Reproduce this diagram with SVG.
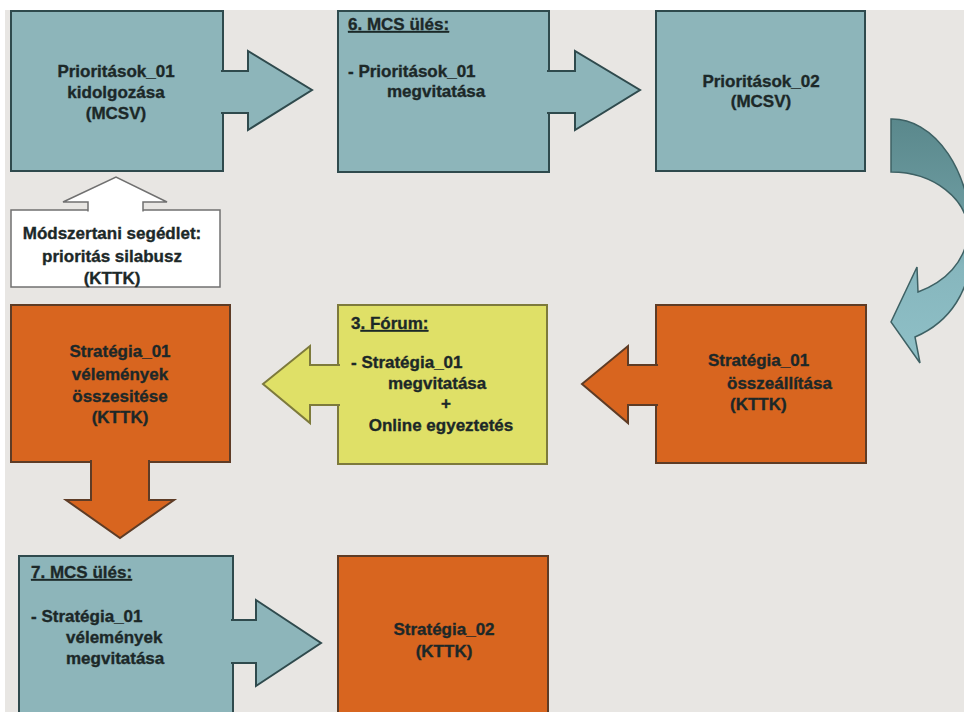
<svg xmlns="http://www.w3.org/2000/svg" width="964" height="712" viewBox="0 0 964 712">
<style>
  text { font-family: "Liberation Sans", Arial, sans-serif; font-weight: bold; font-size: 17px; fill: #1c2828; stroke: #1c2828; stroke-width: 0.35; }
  .mid { text-anchor: middle; }
  .u { text-decoration: underline; }
  .teal { fill: #8db5ba; stroke: #2f4a4d; stroke-width: 2; }
  .orange { fill: #d8651f; stroke: #5e3c26; stroke-width: 2; }
  .yellow { fill: #dfe067; stroke: #7d7a3c; stroke-width: 2; }
  .white { fill: #ffffff; stroke: #707070; stroke-width: 1.5; }
</style>
<defs>
  <linearGradient id="curveGrad" x1="0" y1="119" x2="0" y2="363" gradientUnits="userSpaceOnUse">
    <stop offset="0" stop-color="#5a888c"/>
    <stop offset="0.45" stop-color="#6f9ea3"/>
    <stop offset="0.6" stop-color="#86b6bd"/>
    <stop offset="1" stop-color="#8fc0c7"/>
  </linearGradient>
</defs>
<rect x="0" y="0" width="964" height="712" fill="#ffffff"/>
<rect x="5" y="10" width="959" height="702" fill="#e8e6e3"/>

<g id="node-prioritasok01">
  <rect class="teal" x="11" y="11" width="212" height="160"/>
  <text class="mid" x="116" y="77">Prioritások_01</text>
  <text class="mid" x="116" y="98">kidolgozása</text>
  <text class="mid" x="116" y="119">(MCSV)</text>
</g>
<g id="node-mcs6">
  <rect class="teal" x="338" y="11" width="211" height="161"/>
  <text class="u" x="348" y="30">6. MCS ülés:</text>
  <text x="348" y="77">- Prioritások_01</text>
  <text x="387" y="97">megvitatása</text>
</g>
<g id="node-prioritasok02">
  <rect class="teal" x="656" y="11" width="209" height="160"/>
  <text class="mid" x="761" y="87">Prioritások_02</text>
  <text class="mid" x="761" y="107">(MCSV)</text>
</g>
<g id="node-segedlet">
  <rect class="white" x="11" y="210" width="209" height="77"/>
  <text class="mid" x="112" y="239">Módszertani segédlet:</text>
  <text class="mid" x="112" y="262">prioritás silabusz</text>
  <text class="mid" x="112" y="284">(KTTK)</text>
</g>
<g id="node-strategia01-osszesites">
  <rect class="orange" x="11" y="305" width="219" height="157"/>
  <text class="mid" x="120" y="357">Stratégia_01</text>
  <text class="mid" x="120" y="380">vélemények</text>
  <text class="mid" x="120" y="402">összesitése</text>
  <text class="mid" x="120" y="423">(KTTK)</text>
</g>
<g id="node-forum3">
  <rect class="yellow" x="338" y="305" width="209" height="159"/>
  <text x="351" y="329">3<tspan class="u">. Fórum:</tspan></text>
  <text x="351" y="368">- Stratégia_01</text>
  <text x="388" y="389">megvitatása</text>
  <text class="mid" x="446" y="409">+</text>
  <text class="mid" x="441" y="431">Online egyeztetés</text>
</g>
<g id="node-strategia01-osszeallitas">
  <rect class="orange" x="656" y="305" width="210" height="158"/>
  <text x="708" y="366">Stratégia_01</text>
  <text x="727" y="389">összeállítása</text>
  <text x="730" y="410">(KTTK)</text>
</g>
<g id="node-mcs7">
  <rect class="teal" x="19" y="556" width="214" height="170"/>
  <text class="u" x="31" y="578">7. MCS ülés:</text>
  <text x="31" y="622">- Stratégia_01</text>
  <text x="66" y="643">vélemények</text>
  <text x="66" y="664">megvitatása</text>
</g>
<g id="node-strategia02">
  <rect class="orange" x="338" y="556" width="210" height="170"/>
  <text class="mid" x="444" y="635">Stratégia_02</text>
  <text class="mid" x="444" y="657">(KTTK)</text>
</g>

<g id="connectors">
  <path class="teal" d="M221,71 H248 V51 L312,90 L248,130 V113 H221"/>
  <path class="teal" d="M547,71 H575 V51 L640,90 L575,130 V113 H547"/>
  <path class="white" d="M88,211.5 V202 H63 L116,177 L167,202 H143 V211.5"/>
  <path class="yellow" d="M340,365 H310 V346 L263,384 L310,423 V405 H340"/>
  <path class="orange" d="M658,365 H628 V346 L582,384 L628,423 V405 H658"/>
  <path class="orange" d="M91,460 V500 H66 L120,538 L174,500 H149 V460"/>
  <path class="teal" d="M231,620 H256 V600 L321,643 L256,686 V663 H231"/>
  <path fill="url(#curveGrad)" stroke="#3e6164" stroke-width="1.5" d="M891,119 A80,121 0 0 1 972,240 C973,292 948,323 915,337 L920,363 L891,322 L917,267 L918,292 C945,282 966,262 968,232 A77,60 0 0 0 891,172 Z"/>
</g>
</svg>
